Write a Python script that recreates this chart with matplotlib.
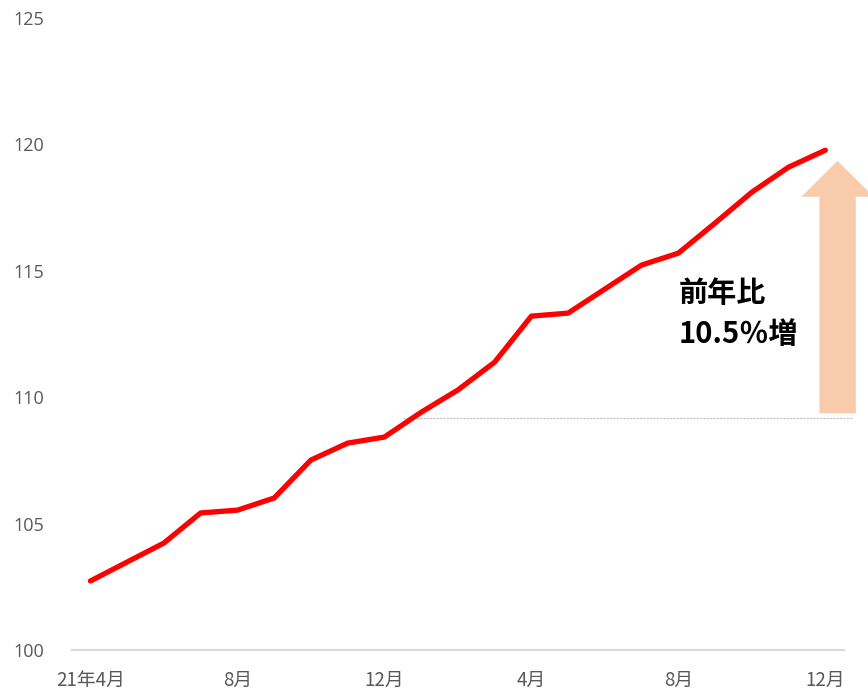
import matplotlib.pyplot as plt
from matplotlib.patches import Polygon

plt.rcParams['font.family'] = ['Noto Sans CJK JP', 'DejaVu Sans']

# monthly index, Apr 2021 .. Dec 2022
months = ['21年4月', '5月', '6月', '7月', '8月', '9月', '10月', '11月', '12月',
          '1月', '2月', '3月', '4月', '5月', '6月', '7月', '8月', '9月', '10月', '11月', '12月']
values = [102.73, 103.48, 104.23, 105.42, 105.53, 106.01, 107.51, 108.18, 108.42,
          109.40, 110.28, 111.38, 113.20, 113.32, 114.27, 115.22, 115.69, 116.88,
          118.10, 119.09, 119.76]
yticks = [100, 105, 110, 115, 120, 125]
ref_level = 109.17
note = '前年比\n10.5％増'

fig = plt.figure(figsize=(8.68, 6.93), dpi=100)
ax = fig.add_axes([0.083, 0.062, 0.889, 0.9125])

x = list(range(len(values)))
ax.plot(x, values, color='#FF0000', linewidth=3.8, solid_capstyle='round',
        solid_joinstyle='round', zorder=3)

ax.set_xlim(-0.5, len(values) - 0.5)
ax.set_ylim(100, 125)
ax.set_yticks(yticks)
ax.set_yticklabels([str(t) for t in yticks], fontfamily='Open Sans', fontsize=13)
ax.set_xticks(x[::4])
ax.set_xticklabels(months[::4], fontsize=13.5)
ax.tick_params(axis='both', length=0, colors='#595959')
ax.tick_params(axis='y', pad=20)
ax.tick_params(axis='x', pad=14)

for s in ['top', 'right', 'left']:
    ax.spines[s].set_visible(False)
ax.spines['bottom'].set_color('#D9D9D9')
ax.spines['bottom'].set_linewidth(1.5)

# dotted reference line from Dec 2021 level
ax.plot([8.52, 20.73], [ref_level, ref_level], color='#BFBFBF', linewidth=0.8,
        linestyle=(0, (2, 1)), clip_on=False, zorder=2)

# up arrow
arrow = Polygon([(19.84, 109.36), (20.83, 109.36), (20.83, 117.92), (21.32, 117.92),
                 (20.33, 119.34), (19.35, 117.92), (19.84, 117.92)],
                closed=True, facecolor='#F8CBAD', edgecolor='none', clip_on=False, zorder=2)
ax.add_patch(arrow)

ax.text(16.0, 113.3, note, fontsize=21, fontweight='bold', color='black',
        ha='left', va='center', linespacing=1.45)

fig.savefig('out.png', dpi=100)
